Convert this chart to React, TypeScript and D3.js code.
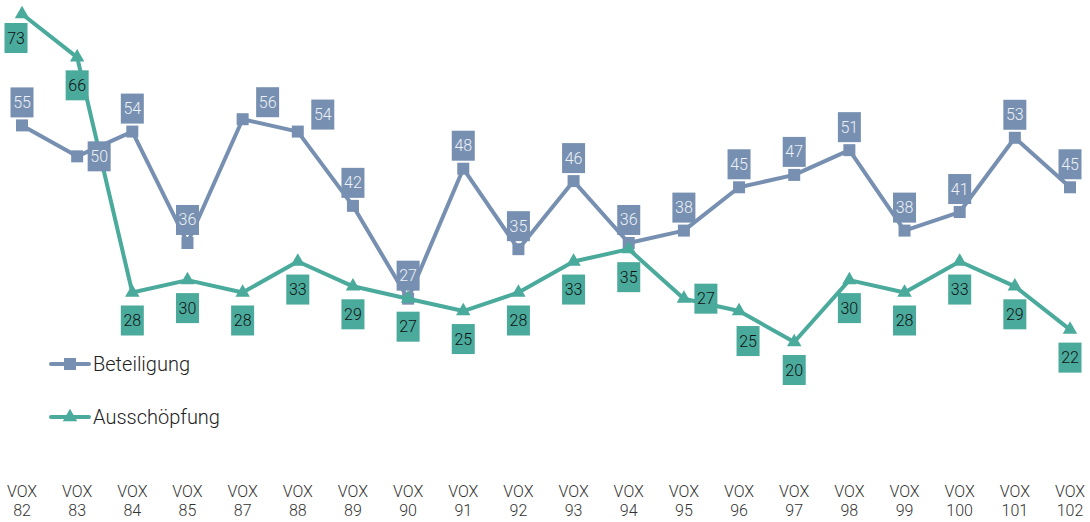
import React, { useRef, useEffect } from "react";
import * as d3 from "d3";

const categories = ["82", "83", "84", "85", "87", "88", "89", "90", "91", "92", "93", "94", "95", "96", "97", "98", "99", "100", "101", "102"];
const beteiligung = [55, 50, 54, 36, 56, 54, 42, 27, 48, 35, 46, 36, 38, 45, 47, 51, 38, 41, 53, 45];
const ausschoepfung = [73, 66, 28, 30, 28, 33, 29, 27, 25, 28, 33, 35, 27, 25, 20, 30, 28, 33, 29, 22];
// where each value label sits relative to its point
const beteiligungLabelPos = ["t", "r", "t", "t", "tr", "tr", "t", "t", "t", "t", "t", "t", "t", "t", "t", "t", "t", "t", "t", "t"];
const ausschoepfungLabelPos = ["bl", "b", "b", "b", "b", "b", "b", "b", "b", "b", "b", "b", "r", "br", "b", "b", "b", "b", "b", "b"];

const W = 1090;
const H = 522;
const BLUE = "#7790b1";
const GREEN = "#4aaa9c";
const FONT = "Roboto, 'Liberation Sans', sans-serif";

const App = () => {
  const ref = useRef<SVGSVGElement>(null);

  useEffect(() => {
    const svg = d3.select(ref.current);
    svg.selectAll("*").remove();

    const x = d3.scalePoint<string>().domain(categories).range([22, 1070]);
    const y = d3.scaleLinear().domain([20, 73]).range([342, 14]);

    const series = [
      { name: "Beteiligung", values: beteiligung, pos: beteiligungLabelPos, color: BLUE, text: "#eef1f6", symbol: d3.symbolSquare, size: 144 },
      { name: "Ausschöpfung", values: ausschoepfung, pos: ausschoepfungLabelPos, color: GREEN, text: "#111", symbol: d3.symbolTriangle, size: 90 },
    ];

    const lineGen = d3
      .line<number>()
      .x((_, i) => x(categories[i]) as number)
      .y((d) => y(d));

    // lines + markers
    series.forEach((s) => {
      svg.append("path")
        .datum(s.values)
        .attr("fill", "none")
        .attr("stroke", s.color)
        .attr("stroke-width", 4)
        .attr("stroke-linejoin", "round")
        .attr("d", lineGen);

      svg.append("g")
        .selectAll("path")
        .data(s.values)
        .enter()
        .append("path")
        .attr("d", d3.symbol().type(s.symbol).size(s.size))
        .attr("transform", (d, i) => `translate(${x(categories[i])},${y(d)})`)
        .attr("fill", s.color);
    });

    // value labels
    const offsets: Record<string, [number, number]> = {
      t: [0, -23],
      b: [0, 28],
      bl: [-6, 24],
      br: [9, 30],
      r: [22, 0],
      tr: [25, -17],
    };
    series.forEach((s) => {
      const g = svg.append("g")
        .selectAll("g")
        .data(s.values)
        .enter()
        .append("g")
        .attr("transform", (d, i) => {
          const [dx, dy] = offsets[s.pos[i]];
          return `translate(${(x(categories[i]) as number) + dx},${y(d) + dy})`;
        });
      g.append("rect")
        .attr("x", -11.5)
        .attr("y", -15)
        .attr("width", 23)
        .attr("height", 30)
        .attr("fill", s.color);
      g.append("text")
        .attr("text-anchor", "middle")
        .attr("y", 5.5)
        .style("font-family", FONT)
        .style("font-size", "16px")
        .style("font-weight", 300)
        .attr("fill", s.text)
        .text((d) => d);
    });

    // legend
    series.forEach((s, i) => {
      const ly = 364 + i * 53;
      const lg = svg.append("g");
      lg.append("line")
        .attr("x1", 51)
        .attr("x2", 89)
        .attr("y1", ly)
        .attr("y2", ly)
        .attr("stroke", s.color)
        .attr("stroke-width", 4)
        .attr("stroke-linecap", "round");
      lg.append("path")
        .attr("d", d3.symbol().type(s.symbol).size(s.size)())
        .attr("transform", `translate(70,${ly})`)
        .attr("fill", s.color);
      lg.append("text")
        .attr("x", 93)
        .attr("y", ly + 7)
        .style("font-family", FONT)
        .style("font-size", "20px")
        .style("font-weight", 300)
        .attr("fill", "#222")
        .text(s.name);
    });

    // x axis labels
    const ax = svg.append("g")
      .selectAll("text")
      .data(categories)
      .enter()
      .append("text")
      .attr("text-anchor", "middle")
      .attr("x", (d) => x(d) as number)
      .style("font-family", FONT)
      .style("font-size", "16px")
      .style("font-weight", 300)
      .attr("fill", "#333");
    ax.append("tspan").attr("x", (d) => x(d) as number).attr("y", 497).text("VOX");
    ax.append("tspan").attr("x", (d) => x(d) as number).attr("y", 516).text((d) => d);
  }, []);

  return (
    <svg
      ref={ref}
      width={W}
      height={H}
      style={{ position: "absolute", left: 0, top: 0, background: "#fff" }}
    />
  );
};

export default App;
